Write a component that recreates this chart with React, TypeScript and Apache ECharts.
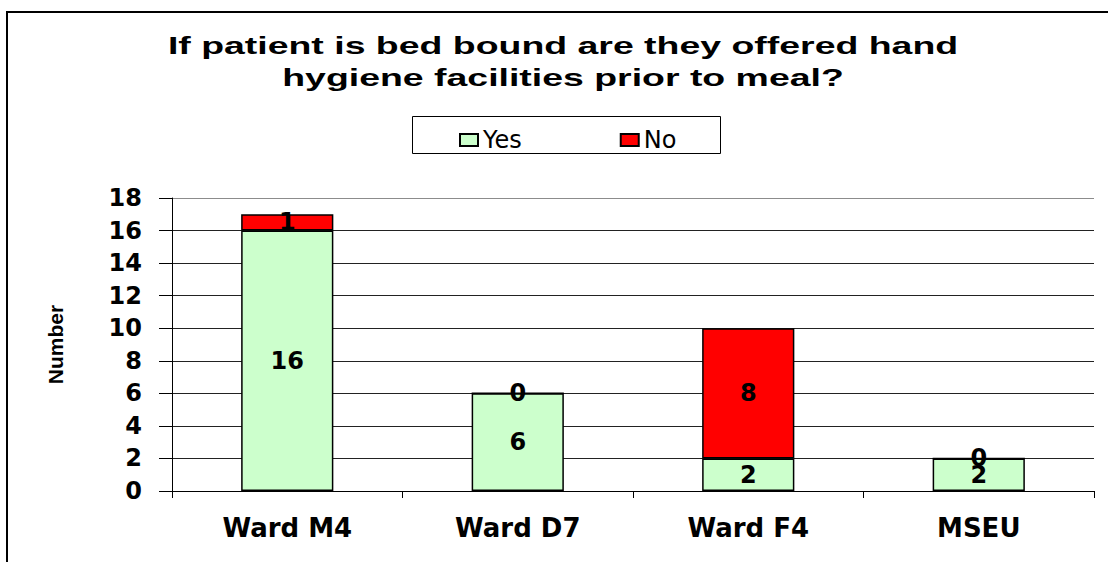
import React, { useEffect, useRef } from "react";
import * as echarts from "echarts";

const categories = ["Ward M4", "Ward D7", "Ward F4", "MSEU"];
const yesValues = [16, 6, 2, 2];
const noValues = [1, 0, 8, 0];
const seriesNames = ["Yes", "No"];
const titleLines = [
  "If patient is bed bound are they offered hand",
  "hygiene facilities prior to meal?",
];
const yAxisName = "Number";
const yMin = 0;
const yMax = 18;
const yInterval = 2;

const BOLD = "DejaVu Sans";

export default function App() {
  const ref = useRef<HTMLDivElement>(null);

  useEffect(() => {
    if (!ref.current) return;
    const chart = echarts.init(ref.current, null, { renderer: "svg" });
    const gridColors: string[] = [];
    for (let v = yMin; v <= yMax; v += yInterval) {
      gridColors.push(v === yMax ? "#8c8c8c" : "#222222");
    }
    const labelStyle = {
      show: true,
      position: "inside" as const,
      color: "#000",
      fontFamily: BOLD,
      fontWeight: "bold" as const,
      fontSize: 24,
    };
    chart.setOption({
      animation: false,
      backgroundColor: "#ffffff",
      graphic: [
        {
          type: "rect",
          z: 0,
          shape: { x: 7, y: 12, width: 1300, height: 700 },
          style: { fill: "none", stroke: "#000", lineWidth: 2 },
        },
        {
          type: "rect",
          z: 0,
          shape: { x: 412.5, y: 116.5, width: 308, height: 37 },
          style: { fill: "none", stroke: "#000", lineWidth: 1 },
        },
        {
          type: "text",
          x: 563,
          y: 46,
          scaleX: 1.56,
          style: {
            text: titleLines[0],
            fontFamily: "Liberation Sans",
            fontWeight: "bold",
            fontSize: 24,
            fill: "#000",
            textAlign: "center",
            textVerticalAlign: "middle",
          },
        },
        {
          type: "text",
          x: 563,
          y: 78,
          scaleX: 1.56,
          style: {
            text: titleLines[1],
            fontFamily: "Liberation Sans",
            fontWeight: "bold",
            fontSize: 24,
            fill: "#000",
            textAlign: "center",
            textVerticalAlign: "middle",
          },
        },
      ],
      legend: {
        data: seriesNames,
        left: 454,
        top: 123,
        itemWidth: 18,
        itemHeight: 12,
        itemGap: 98,
        icon: "rect",
        textStyle: { fontFamily: "DejaVu Sans", fontSize: 24, color: "#000" },
      },
      grid: { left: 172, top: 198, right: 14, bottom: 71, containLabel: false },
      xAxis: {
        type: "category",
        data: categories,
        axisLine: { show: true, lineStyle: { color: "#000", width: 1 } },
        axisTick: { show: true, alignWithLabel: false, length: 7, lineStyle: { color: "#000" } },
        axisLabel: {
          color: "#000",
          fontFamily: BOLD,
          fontWeight: "bold",
          fontSize: 26,
          margin: 24,
        },
        splitLine: { show: false },
      },
      yAxis: {
        type: "value",
        min: yMin,
        max: yMax,
        interval: yInterval,
        name: yAxisName,
        nameLocation: "middle",
        nameRotate: 90,
        nameGap: 106,
        nameTextStyle: {
          fontFamily: "Liberation Sans",
          fontWeight: "bold",
          fontSize: 21,
          color: "#000",
        },
        axisLine: { show: true, lineStyle: { color: "#000", width: 1 } },
        axisTick: { show: true, inside: false, length: 13, lineStyle: { color: "#000" } },
        axisLabel: {
          color: "#000",
          fontFamily: BOLD,
          fontWeight: "bold",
          fontSize: 24,
          margin: 30,
        },
        splitLine: { show: true, lineStyle: { color: gridColors, width: 1 } },
      },
      series: [
        {
          name: seriesNames[0],
          type: "bar",
          stack: "total",
          data: yesValues,
          barWidth: "40%",
          itemStyle: { color: "#CCFFCC", borderColor: "#000", borderWidth: 1.5 },
          label: labelStyle,
        },
        {
          name: seriesNames[1],
          type: "bar",
          stack: "total",
          data: noValues,
          barWidth: "40%",
          itemStyle: { color: "#FF0000", borderColor: "#000", borderWidth: 1.5 },
          label: labelStyle,
        },
      ],
    });
    return () => chart.dispose();
  }, []);

  return (
    <div
      ref={ref}
      style={{ position: "absolute", left: 0, top: 0, width: 1108, height: 562 }}
    />
  );
}
